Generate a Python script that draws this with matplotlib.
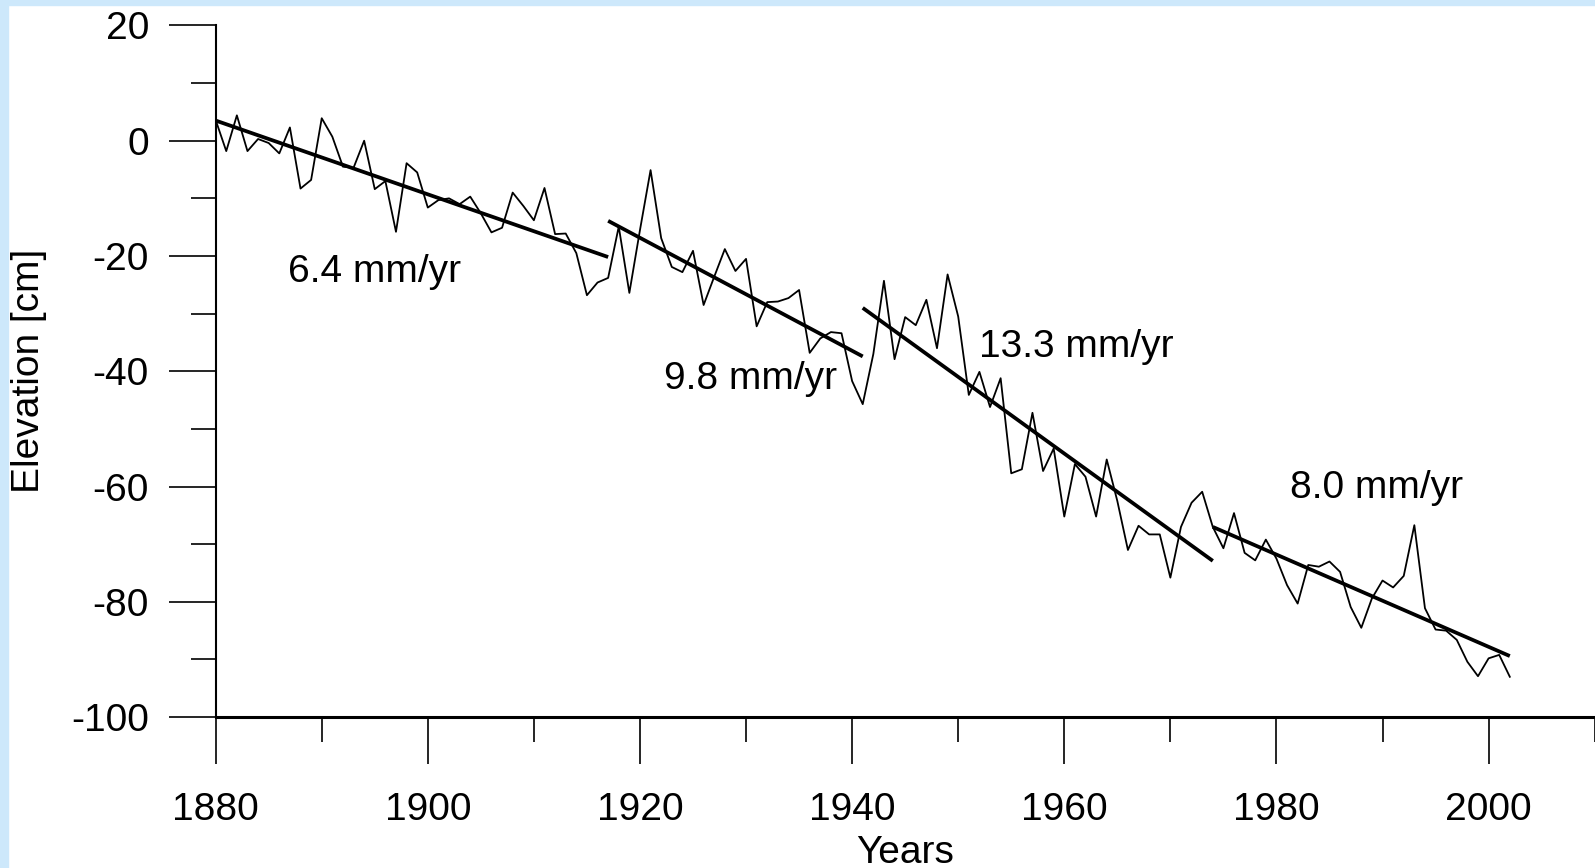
import numpy as np
import matplotlib
matplotlib.use("Agg")
import matplotlib.pyplot as plt
from matplotlib.patches import Rectangle
from matplotlib.ticker import MultipleLocator

# annual elevation readings, 1880-2002 (cm)
years = np.arange(1880, 2003)
elevation = [
    3.6, -1.8, 4.4, -1.8, 0.3, -0.4, -2.2, 2.3, -8.3, -6.8,
    3.9, 0.7, -4.5, -4.7, 0.0, -8.4, -7.0, -15.8, -3.9, -5.5,
    -11.6, -10.3, -10.0, -11.0, -9.7, -12.6, -15.9, -15.1, -9.0, -11.3,
    -13.8, -8.2, -16.2, -16.1, -19.5, -26.8, -24.6, -23.8, -14.9, -26.4,
    -15.5, -5.1, -16.9, -21.9, -22.8, -19.1, -28.5, -23.6, -18.8, -22.6,
    -20.5, -32.2, -28.0, -27.9, -27.3, -25.9, -36.8, -34.3, -33.2, -33.4,
    -41.7, -45.7, -37.0, -24.3, -37.9, -30.6, -32.0, -27.6, -36.0, -23.2,
    -30.5, -44.1, -40.1, -46.2, -41.2, -57.7, -57.0, -47.2, -57.3, -53.4,
    -65.2, -56.1, -58.3, -65.2, -55.3, -62.5, -71.0, -66.8, -68.3, -68.3,
    -75.8, -67.0, -62.8, -60.9, -67.0, -70.7, -64.6, -71.5, -72.8, -69.2,
    -72.5, -77.1, -80.3, -73.6, -73.9, -73.0, -74.8, -80.9, -84.5, -79.4,
    -76.3, -77.5, -75.5, -66.7, -81.1, -84.8, -85.0, -86.6, -90.4, -92.9,
    -89.8, -89.2, -93.0,
]

# piecewise linear trends
trend_start = [1880, 1917, 1941, 1974]
trend_end = [1917, 1941, 1974, 2002]
trend_y0 = [3.5, -13.9, -29.0, -67.0]
rates = [6.4, 9.8, 13.3, 8.0]  # mm/yr
rate_labels = [f"{r:.1f} mm/yr" for r in rates]

plt.rcParams['font.family'] = ['Liberation Sans', 'DejaVu Sans']
plt.rcParams['axes.unicode_minus'] = False

FS = 28

fig = plt.figure(figsize=(15.95, 8.68), dpi=100)
ax = fig.add_axes([0.1352, 0.1738, 0.8646, 0.7969])

# light blue frame strips
fig.patches.append(Rectangle((0, 0), 8 / 1595, 1, transform=fig.transFigure,
                             color='#cde8fb', zorder=-1))
fig.patches.append(Rectangle((0, 1 - 5 / 868), 1, 5 / 868, transform=fig.transFigure,
                             color='#cde8fb', zorder=-1))

ax.plot(years, elevation, color='black', lw=1.3, zorder=2)

for x0, x1, y0, r in zip(trend_start, trend_end, trend_y0, rates):
    y1 = y0 - r / 10 * (x1 - x0)
    ax.plot([x0, x1], [y0, y1], color='black', lw=2.7, solid_capstyle='butt', zorder=3)

label_pos = [(1886.8, -22.7), (1922.3, -41.4), (1952.0, -35.8), (1981.3, -60.3)]
for (lx, ly), txt in zip(label_pos, rate_labels):
    ax.text(lx, ly, txt, fontsize=FS, ha='left', va='center')

ax.set_xlim(1880, 2010)
ax.set_ylim(-100, 20)
ax.xaxis.set_major_locator(MultipleLocator(20))
ax.xaxis.set_minor_locator(MultipleLocator(10))
ax.yaxis.set_major_locator(MultipleLocator(20))
ax.yaxis.set_minor_locator(MultipleLocator(10))

ax.spines['top'].set_visible(False)
ax.spines['right'].set_visible(False)
ax.spines['left'].set_linewidth(1.5)
ax.spines['bottom'].set_linewidth(2.2)

ax.tick_params(which='major', length=34, width=1.2, direction='out', labelsize=FS)
ax.tick_params(which='minor', length=18, width=1.2, direction='out')
ax.tick_params(axis='x', which='major', pad=20)
ax.tick_params(axis='y', which='major', pad=14)

ax.set_xlabel("Years", fontsize=FS)
ax.set_ylabel("Elevation [cm]", fontsize=FS)
ax.xaxis.set_label_coords(0.5, -0.17)
ax.yaxis.set_label_coords(-0.122, 0.5)

fig.savefig("out.png", dpi=100)
